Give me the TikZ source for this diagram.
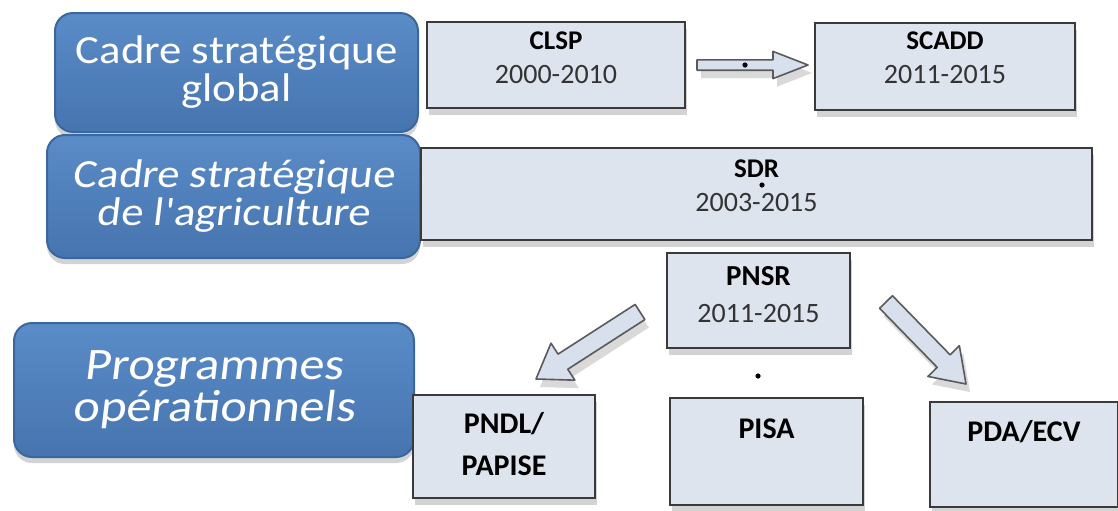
\documentclass[tikz,border=0pt]{standalone}
\usepackage{fontspec}
\setmainfont{Carlito}
\newfontfamily\widefont[FakeStretch=1.12]{Carlito}
\newfontfamily\slantfont[FakeStretch=1.12, FakeSlant=0.12]{Carlito}
\usepackage{xcolor}
\usetikzlibrary{calc,shadows}

\definecolor{boxblue}{HTML}{4F81BD}
\definecolor{bluetop}{HTML}{5A8CC8}
\definecolor{bluebot}{HTML}{4674AE}
\definecolor{blueedge}{HTML}{3A679E}
\definecolor{boxfill}{HTML}{DDE4EE}
\definecolor{boxline}{HTML}{3A3A3A}
\definecolor{datetext}{HTML}{333333}
\definecolor{arrowfill}{HTML}{D7E0EC}
\definecolor{arrowline}{HTML}{5A5A5A}

\newcommand{\blockarrow}[5]{%
  \draw[arrowbox] let \p1=($(#2)-(#1)$), \n1={atan2(\y1,\x1)}, \n2={veclen(\x1,\y1)} in
    ($(#1)+({\n1+90}:#3)$) -- ++(\n1:{\n2-#5}) -- ++({\n1+90}:{#4-#3}) -- (#2)
    -- ($(#1)+(\n1:{\n2-#5})+({\n1-90}:#4)$) -- ++({\n1+90}:{#4-#3})
    -- ($(#1)+({\n1-90}:#3)$) -- cycle;}

\begin{document}
\begin{tikzpicture}[
  x=0.5pt, y=-0.5pt,
  bluebox/.style={draw=blueedge, line width=1pt, rounded corners=9pt, top color=bluetop, bottom color=bluebot,
    text=white, align=center, font=\widefont\fontsize{20}{19}\selectfont,
    drop shadow={shadow xshift=0pt, shadow yshift=-3pt, opacity=0.35}},
  lightbox/.style={draw=boxline, line width=0.9pt, fill=boxfill, inner sep=0pt, text=datetext,
    font=\fontsize{14}{17}\selectfont,
    drop shadow={shadow xshift=1pt, shadow yshift=-3.5pt, opacity=0.35}},
  progbox/.style={lightbox, text=black, font=\bfseries\fontsize{15}{21}\selectfont},
  arrowbox/.style={draw=arrowline, line width=0.8pt, fill=arrowfill, line join=round,
    drop shadow={shadow xshift=2pt, shadow yshift=-4pt, opacity=0.3}},
  dotmark/.style={circle, fill=black, inner sep=0pt, minimum size=2.6pt}
]
\useasboundingbox (0,0) rectangle (1118,510);

\node[bluebox, minimum width=181.5pt, minimum height=59.5pt] (global) at (236.5,72.5) {Cadre stratégique\\global};
\node[bluebox, font=\slantfont\fontsize{20}{19}\selectfont, minimum width=186.5pt, minimum height=61.5pt] (agri) at (233.5,196.5) {Cadre stratégique\\de l'agriculture};
\node[bluebox, font=\slantfont\fontsize{22.5}{21}\selectfont, minimum width=200pt, minimum height=67pt] (prog) at (214,390) {Programmes\\opérationnels};

\node[lightbox, minimum width=129pt, minimum height=43pt] (clsp) at (556,65)
  {\begin{tabular}{c}{\bfseries\color{black}\fontsize{13.5}{17}\selectfont CLSP}\\2000-2010\\[5pt]\end{tabular}};
\node[lightbox, minimum width=130pt, minimum height=43.5pt] (scadd) at (945,66.5)
  {\begin{tabular}{c}{\bfseries\color{black}\fontsize{13.5}{17}\selectfont SCADD}\\2011-2015\\[7pt]\end{tabular}};
\node[lightbox, minimum width=335.5pt, minimum height=46pt] (sdr) at (756.5,194)
  {\begin{tabular}{c}{\bfseries\color{black}\fontsize{13.5}{16}\selectfont SDR}\\2003-2015\\[6pt]\end{tabular}};
\node[lightbox, font=\fontsize{14}{18.5}\selectfont, minimum width=91.5pt, minimum height=47.5pt] (pnsr) at (758.5,300.5)
  {\begin{tabular}{c}{\bfseries\color{black}\fontsize{14.5}{18.5}\selectfont PNSR}\\2011-2015\\[4pt]\end{tabular}};

\node[progbox, minimum width=91pt, minimum height=51.5pt] (pndl) at (504,446.5)
  {\begin{tabular}{c}PNDL/\\PAPISE\end{tabular}};
\node[progbox, minimum width=96.5pt, minimum height=53.5pt] (pisa) at (766.5,451.5)
  {\begin{tabular}{c}PISA\\[21.5pt]\end{tabular}};
\node[progbox, minimum width=94pt, minimum height=52.5pt] (pda) at (1024,454.5)
  {\begin{tabular}{c}PDA/ECV\\[21.5pt]\end{tabular}};

\coordinate (a1s) at (697,65);
\coordinate (a1e) at (808,65);
\coordinate (a2s) at (640,312);
\coordinate (a2e) at (536,379);
\coordinate (a3s) at (886,302);
\coordinate (a3e) at (966,384);

\blockarrow{a1s}{a1e}{2.6pt}{6.8pt}{17.5pt}
\blockarrow{a2s}{a2e}{4.5pt}{11pt}{16pt}
\blockarrow{a3s}{a3e}{4.5pt}{11pt}{16pt}

\node[dotmark] (dot1) at (745,65) {};
\node[dotmark] (dot2) at (762,185) {};
\node[dotmark] (dot3) at (758,376) {};
\end{tikzpicture}
\end{document}
